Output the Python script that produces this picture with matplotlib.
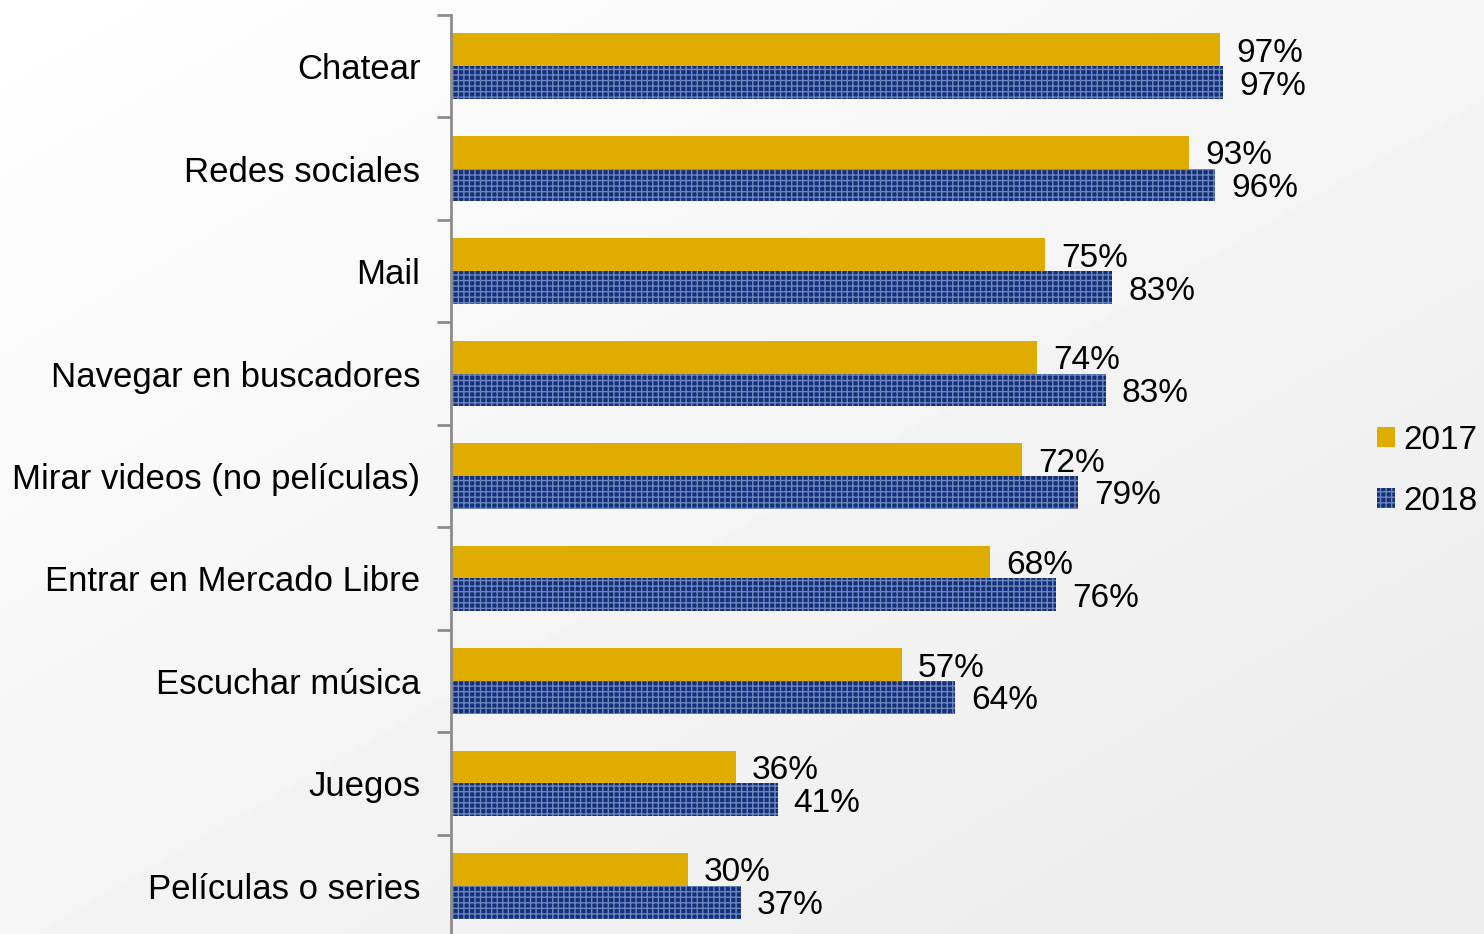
import numpy as np
import matplotlib.pyplot as plt
from matplotlib.patches import Patch

categories = ["Chatear", "Redes sociales", "Mail", "Navegar en buscadores",
              "Mirar videos (no películas)", "Entrar en Mercado Libre",
              "Escuchar música", "Juegos", "Películas o series"]
values_2017 = [97.0, 93.1, 74.9, 73.9, 72.0, 68.0, 56.9, 35.9, 29.9]
values_2018 = [97.4, 96.4, 83.4, 82.6, 79.1, 76.3, 63.6, 41.2, 36.6]
series_names = ["2017", "2018"]

plt.rcParams['font.family'] = ['Liberation Sans', 'DejaVu Sans']
plt.rcParams['hatch.linewidth'] = 1.0

W, H = 1484, 934
fig = plt.figure(figsize=(W / 100, H / 100), dpi=100)

# soft grey background, white at the top left, greyer toward bottom right
bg = fig.add_axes([0, 0, 1, 1], zorder=-10)
yy, xx = np.mgrid[0:1:200j, 0:1:300j]
shade = 1.0 - 0.07 * np.clip(0.55 * xx + 0.6 * yy, 0, 1)
bg.imshow(shade, cmap="gray", vmin=0, vmax=1, aspect="auto", extent=[0, 1, 0, 1])
bg.axis("off")

ax = fig.add_axes([451 / W, -3 / H, 1 - 451 / W, 922 / H])
ax.patch.set_alpha(0)

y = np.arange(len(categories))
bh = 0.32
ax.barh(y - bh / 2, values_2017, height=bh, color="#e0ac00", linewidth=0)
ax.barh(y + bh / 2, values_2018, height=bh, color="#14307a", edgecolor="#6d86bd",
        hatch="+++", linewidth=0)

for i in range(len(categories)):
    ax.text(values_2017[i] + 2.0, y[i] - bh / 2 + 0.035, f"{values_2017[i]:.0f}%",
            va="center", ha="left", fontsize=24)
    ax.text(values_2018[i] + 2.0, y[i] + bh / 2 + 0.035, f"{values_2018[i]:.0f}%",
            va="center", ha="left", fontsize=24)

ax.set_ylim(len(categories) - 0.5, -0.5)
ax.set_xlim(0, (W - 451) / 7.93)
ax.set_yticks(y)
ax.set_yticklabels(categories, fontsize=25)
ax.set_yticks(np.arange(len(categories)) - 0.5, minor=True)
ax.tick_params(axis="y", which="major", length=0, pad=22)
ax.tick_params(axis="y", which="minor", length=10, width=2, color="#8c8c8c")
ax.set_xticks([])
for s in ["top", "right", "bottom"]:
    ax.spines[s].set_visible(False)
ax.spines["left"].set_color("#8c8c8c")
ax.spines["left"].set_linewidth(2)

handles = [Patch(facecolor="#e0ac00", linewidth=0),
           Patch(facecolor="#14307a", edgecolor="#6d86bd", hatch="+++", linewidth=0)]
fig.legend(handles, series_names, loc="upper left", bbox_to_anchor=(1360 / W, 1 - 408 / H),
           frameon=False, fontsize=24, handlelength=0.55, handleheight=0.55,
           handletextpad=0.25, labelspacing=0.9, borderpad=0)

fig.savefig("out.png", dpi=100)
